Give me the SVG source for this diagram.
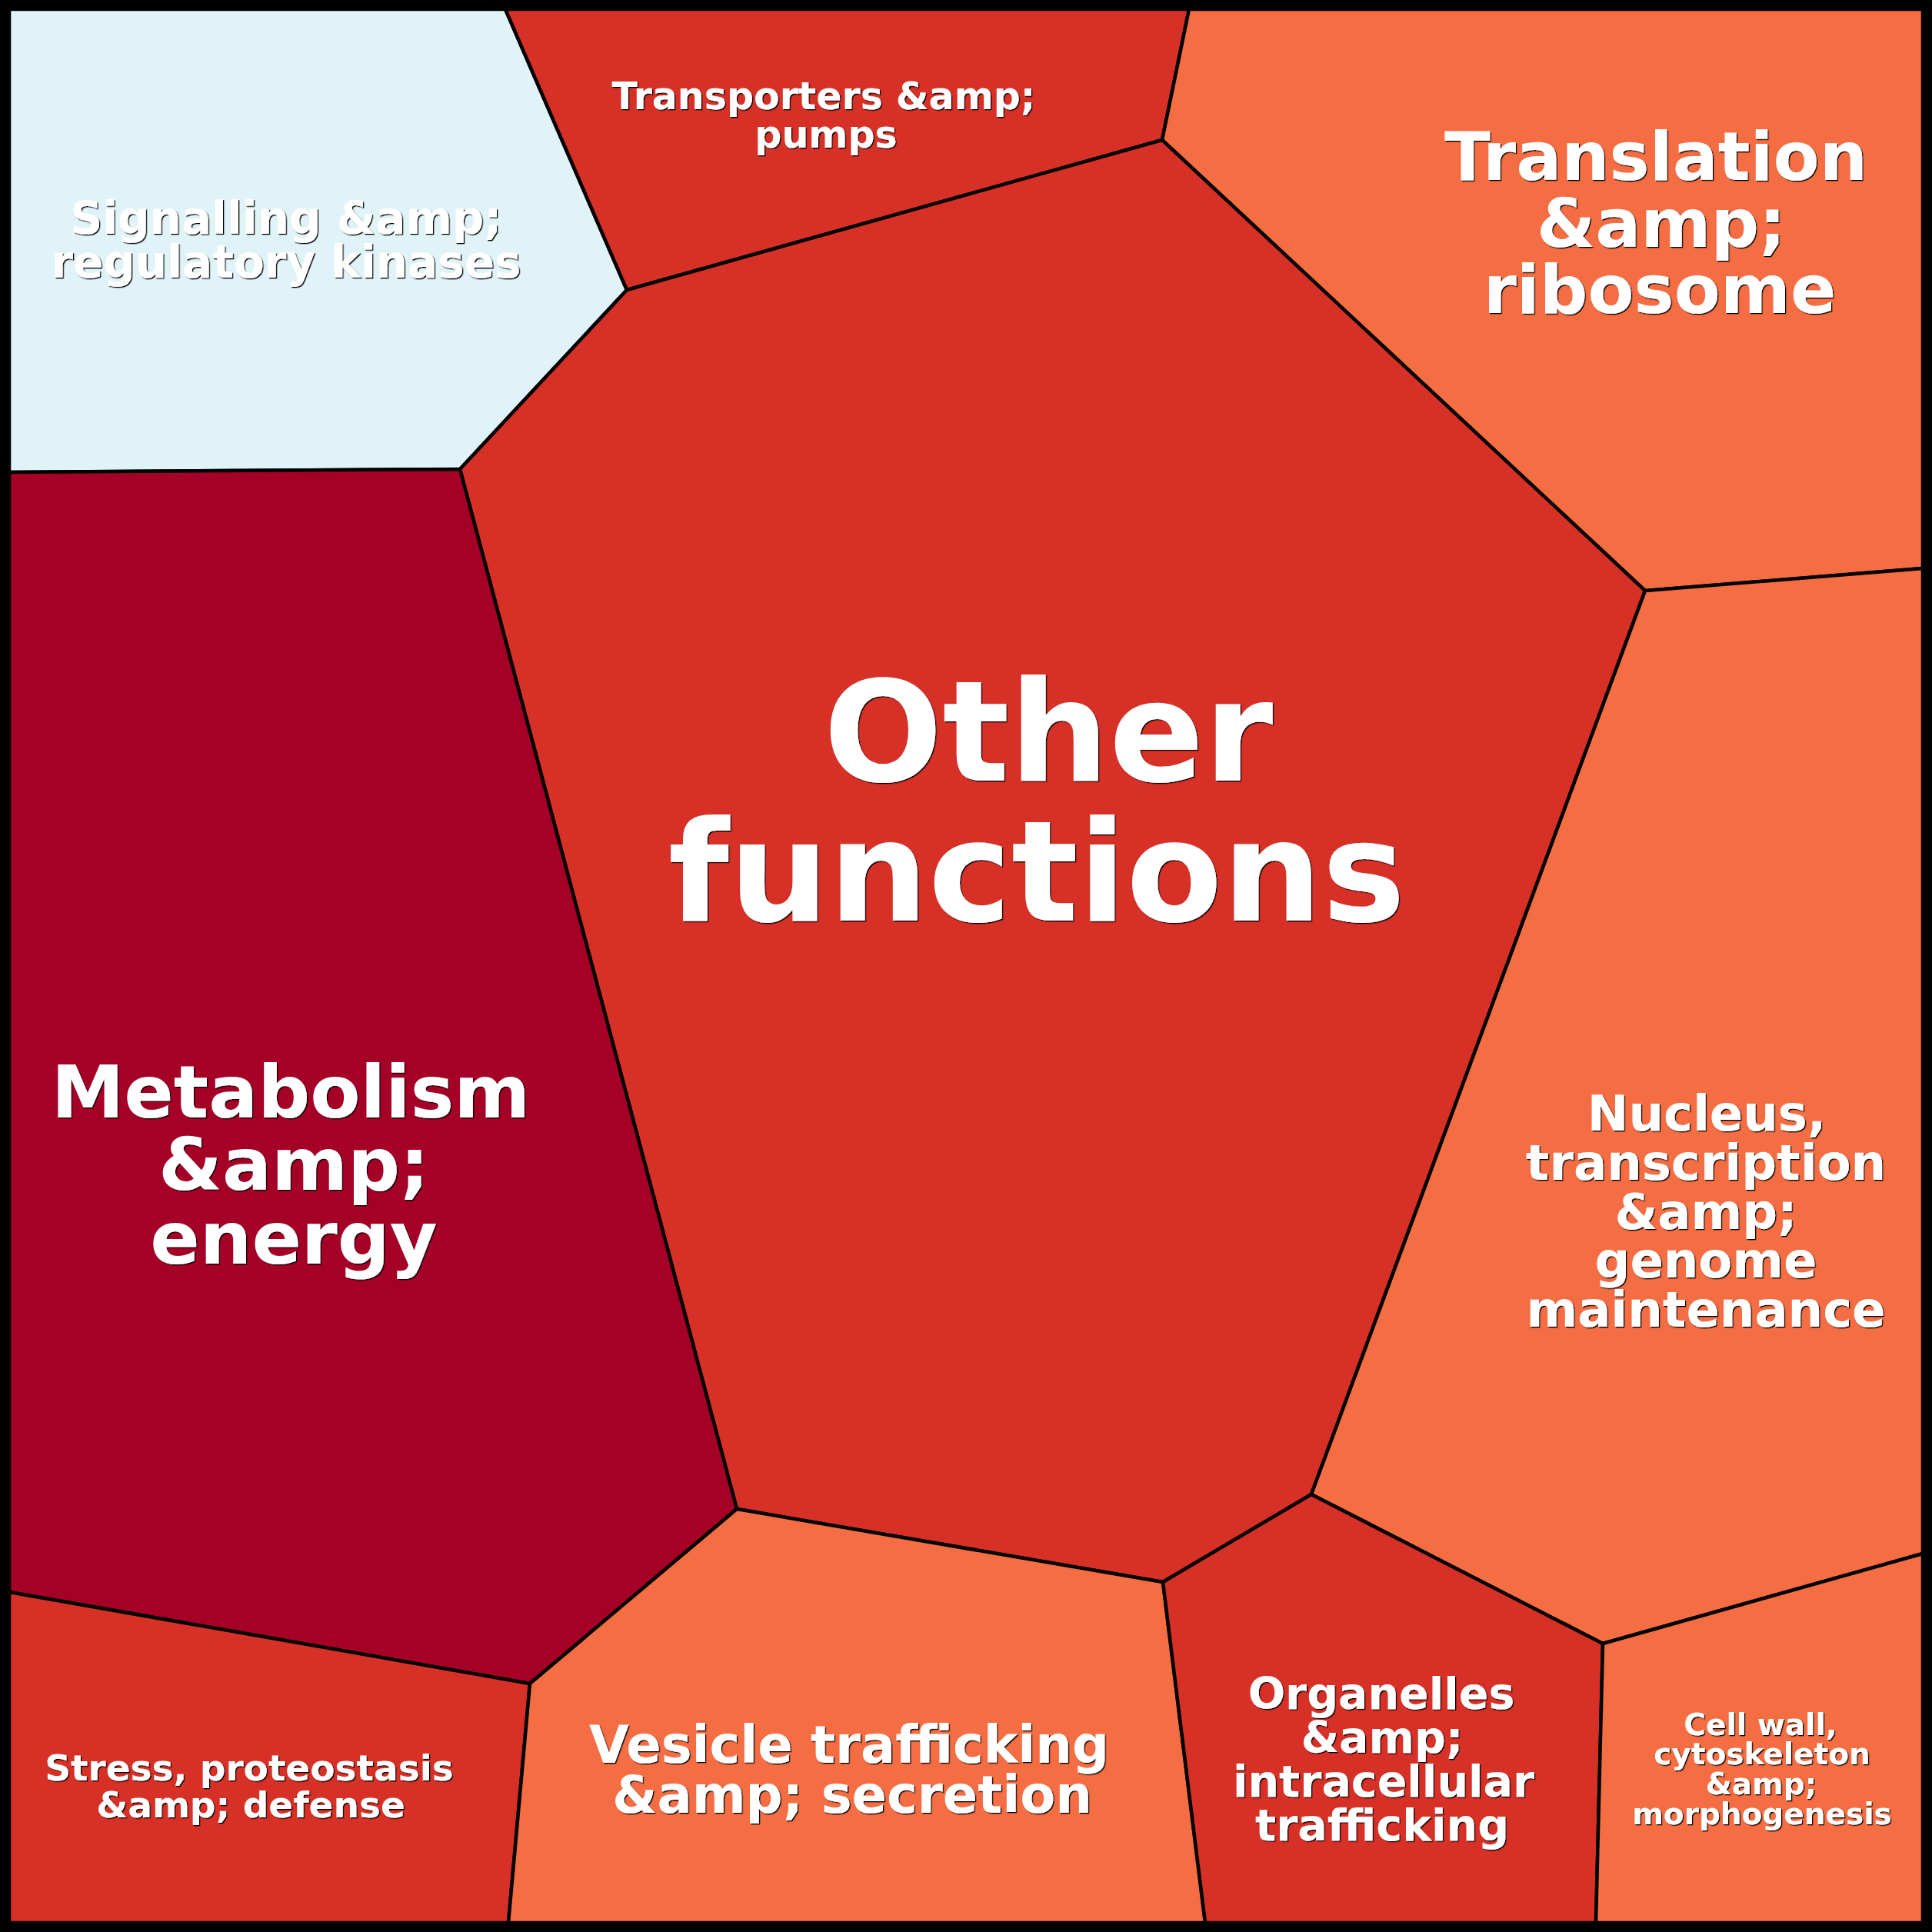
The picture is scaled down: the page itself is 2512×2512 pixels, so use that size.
<svg xmlns="http://www.w3.org/2000/svg" width="2512" height="2512" viewBox="0 0 2512 2512">
<defs>
<filter id="sh" x="-5%" y="-5%" width="110%" height="110%">
<feDropShadow dx="1.3" dy="1.3" stdDeviation="0.4" flood-color="#000" flood-opacity="1"/>
</filter>
<style>
.cell{stroke:#000;stroke-width:4.5;stroke-linejoin:miter}
.lb{fill:#e0f3f8}.rd{fill:#d73027}.or{fill:#f46d43}.dr{fill:#a50026}
.t{font-family:"DejaVu Sans","Noto Sans",sans-serif;font-weight:bold;fill:#fff;text-anchor:middle;filter:url(#sh)}
</style>
</defs>
<g id="cell-signalling">
<polygon class="cell lb" points="12,12 657,12 815,377 598,610 12,614"/>
<text class="t" font-size="58"><tspan x="372" y="303.5">Signalling &amp;amp;</tspan><tspan x="372" y="361">regulatory kinases</tspan></text>
</g>
<g id="cell-transporters">
<polygon class="cell rd" points="657,12 1546,12 1511,182 815,377"/>
<text class="t" font-size="49"><tspan x="1071" y="141.7">Transporters &amp;amp;</tspan><tspan x="1074" y="191.7">pumps</tspan></text>
</g>
<g id="cell-translation">
<polygon class="cell or" points="1546,12 2500,12 2500,739 2139,768 1511,182"/>
<text class="t" font-size="87.5"><tspan x="2153" y="234">Translation</tspan><tspan x="2160" y="320.5">&amp;amp;</tspan><tspan x="2158" y="406.5">ribosome</tspan></text>
</g>
<g id="cell-other">
<polygon class="cell rd" points="815,377 1511,182 2139,768 1705,1943 1512,2057 958,1962 598,610"/>
<text class="t" font-size="182"><tspan x="1363" y="1015">Other</tspan><tspan x="1348" y="1196.5">functions</tspan></text>
</g>
<g id="cell-metabolism">
<polygon class="cell dr" points="12,614 598,610 958,1962 689,2189 12,2070"/>
<text class="t" font-size="95"><tspan x="378" y="1452.7">Metabolism</tspan><tspan x="382" y="1547">&amp;amp;</tspan><tspan x="382" y="1643">energy</tspan></text>
</g>
<g id="cell-nucleus">
<polygon class="cell or" points="2139,768 2500,739 2500,2020 2084,2137 1705,1943"/>
<text class="t" font-size="64"><tspan x="2219" y="1470">Nucleus,</tspan><tspan x="2218" y="1534">transcription</tspan><tspan x="2218" y="1597.5">&amp;amp;</tspan><tspan x="2218" y="1661">genome</tspan><tspan x="2218" y="1725">maintenance</tspan></text>
</g>
<g id="cell-stress">
<polygon class="cell rd" points="12,2070 689,2189 661,2500 12,2500"/>
<text class="t" font-size="47"><tspan x="324" y="2314.5">Stress, proteostasis</tspan><tspan x="326" y="2362.5">&amp;amp; defense</tspan></text>
</g>
<g id="cell-vesicle">
<polygon class="cell or" points="689,2189 958,1962 1512,2057 1567,2500 661,2500"/>
<text class="t" font-size="67"><tspan x="1104" y="2291.5">Vesicle trafficking</tspan><tspan x="1108" y="2357">&amp;amp; secretion</tspan></text>
</g>
<g id="cell-organelles">
<polygon class="cell rd" points="1512,2057 1705,1943 2084,2137 2075,2500 1567,2500"/>
<text class="t" font-size="57"><tspan x="1796" y="2221.5">Organelles</tspan><tspan x="1797" y="2278.5">&amp;amp;</tspan><tspan x="1799" y="2335.5">intracellular</tspan><tspan x="1797" y="2392.5">trafficking</tspan></text>
</g>
<g id="cell-cellwall">
<polygon class="cell or" points="2084,2137 2500,2020 2500,2500 2075,2500"/>
<text class="t" font-size="39"><tspan x="2289" y="2255.5">Cell wall,</tspan><tspan x="2291" y="2294">cytoskeleton</tspan><tspan x="2290" y="2333">&amp;amp;</tspan><tspan x="2291" y="2372">morphogenesis</tspan></text>
</g>
<g id="connectors"></g>
<rect x="0" y="0" width="2512" height="2512" fill="none" stroke="#000" stroke-width="24"/>
</svg>
